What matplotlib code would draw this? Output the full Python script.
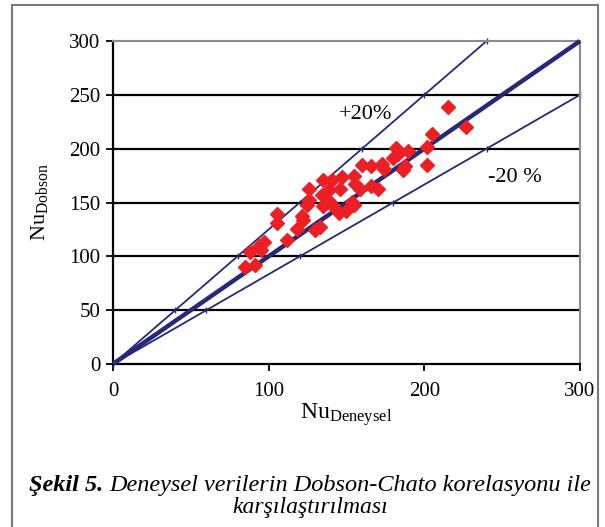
import matplotlib
matplotlib.use("Agg")
import matplotlib.pyplot as plt
import matplotlib.patches as patches

plt.rcParams['font.family'] = ['Liberation Serif', 'DejaVu Serif']
plt.rcParams['mathtext.fontset'] = 'custom'
plt.rcParams['mathtext.rm'] = 'Liberation Serif'
plt.rcParams['mathtext.it'] = 'Liberation Serif:italic'

# measured data (Nu_Deneysel, Nu_Dobson)
nu_deneysel = [85, 88, 91.5, 95, 97, 94, 105.5, 105.5, 112, 118.5, 122, 121.5,
               126, 126, 124.5, 129.5, 133, 135, 134, 135, 138.5, 139, 140.5,
               142, 145, 146, 147, 149.5, 153.5, 154.5, 155, 155.5, 158.5, 160,
               166, 166, 170.5, 173, 174, 180, 181.5, 183, 186, 187.5, 189.5,
               201.5, 202, 205, 215, 227]
nu_dobson = [90, 104, 91.5, 105.5, 113.5, 110, 139.5, 131, 115, 125, 134, 137,
             163, 152.5, 148, 124, 127, 171, 157, 147, 162, 151.5, 171,
             146, 140, 162.5, 174, 142, 150.5, 148, 175, 167, 163, 185,
             184, 165.5, 163, 186, 181, 191.5, 201, 195, 180.5, 183.5, 198,
             185, 202, 213.5, 239, 220]

# reference lines
ideal_x = [0, 300]
ideal_y = [0, 300]
plus20_y = [0, 50, 100, 150, 200, 250, 300]
plus20_x = [v / 1.25 for v in plus20_y]
minus20_y = [0, 50, 100, 150, 200, 250]
minus20_x = [v * 1.2 for v in minus20_y]

navy = '#262878'
red = '#ec2024'

fig = plt.figure(figsize=(6.05, 5.27), dpi=100)
ax = fig.add_axes([113 / 605, 1 - 364 / 527, 467 / 605, 323 / 527])

ax.set_xlim(0, 300)
ax.set_ylim(0, 300)
ax.set_xticks([0, 100, 200, 300])
ax.set_yticks([0, 50, 100, 150, 200, 250, 300])
ax.tick_params(direction='out', length=5, width=1.3, labelsize=15, pad=8,
               colors='black')
ax.tick_params(axis='y', pad=4)

for y in [50, 100, 150, 200, 250]:
    ax.axhline(y, color='black', lw=1.6, zorder=1)

ax.spines['left'].set_color('black')
ax.spines['left'].set_linewidth(1.6)
ax.spines['bottom'].set_color('black')
ax.spines['bottom'].set_linewidth(1.6)
ax.spines['top'].set_color('#8c8c8c')
ax.spines['top'].set_linewidth(1.5)
ax.spines['right'].set_color('#8c8c8c')
ax.spines['right'].set_linewidth(1.5)

ax.plot(plus20_x, plus20_y, color=navy, lw=1.3, marker='|', ms=4, mew=1,
        zorder=2, clip_on=False)
ax.plot(minus20_x, minus20_y, color=navy, lw=1.3, marker='|', ms=4, mew=1,
        zorder=2, clip_on=False)
ax.plot(ideal_x, ideal_y, color=navy, lw=3.2, zorder=3, clip_on=False,
        solid_capstyle='butt')
ax.plot(nu_deneysel, nu_dobson, linestyle='none', marker='D', ms=7,
        color=red, mec=red, zorder=4)

ax.text(145, 232, '+20%', fontsize=16, ha='left', va='center')
ax.text(241, 173, '-20 %', fontsize=16, ha='left', va='center')

ax.set_xlabel(r'$\mathrm{Nu}_{\mathrm{Deneysel}}$', fontsize=17, va='top')
ax.xaxis.set_label_coords(0.5, -0.115)
ax.set_ylabel(r'$\mathrm{Nu}_{\mathrm{Dobson}}$', fontsize=16)
ax.yaxis.set_label_coords(-0.135, 0.5)

# outer frame
fig.add_artist(patches.Rectangle((12 / 605, -0.05), 586 / 605, 1.05 - 5 / 527,
                                 transform=fig.transFigure, fill=False,
                                 edgecolor='#7a7a7a', lw=1.5))

# caption
fig.canvas.draw()
r = fig.canvas.get_renderer()
t1 = fig.text(29 / 605, 1 - 486 / 527, 'Şekil 5.', fontsize=17.5,
              fontweight='bold', fontstyle='italic', va='center', ha='left')
bb = t1.get_window_extent(renderer=r)
fig.text((bb.x1 + 6) / 605, 1 - 486 / 527,
         'Deneysel verilerin Dobson-Chato korelasyonu ile', fontsize=17.5,
         fontstyle='italic', va='center', ha='left')
fig.text(310 / 605, 1 - 508 / 527, 'karşılaştırılması', fontsize=17,
         fontstyle='italic', va='center', ha='center')

fig.savefig('out.png', dpi=100)
